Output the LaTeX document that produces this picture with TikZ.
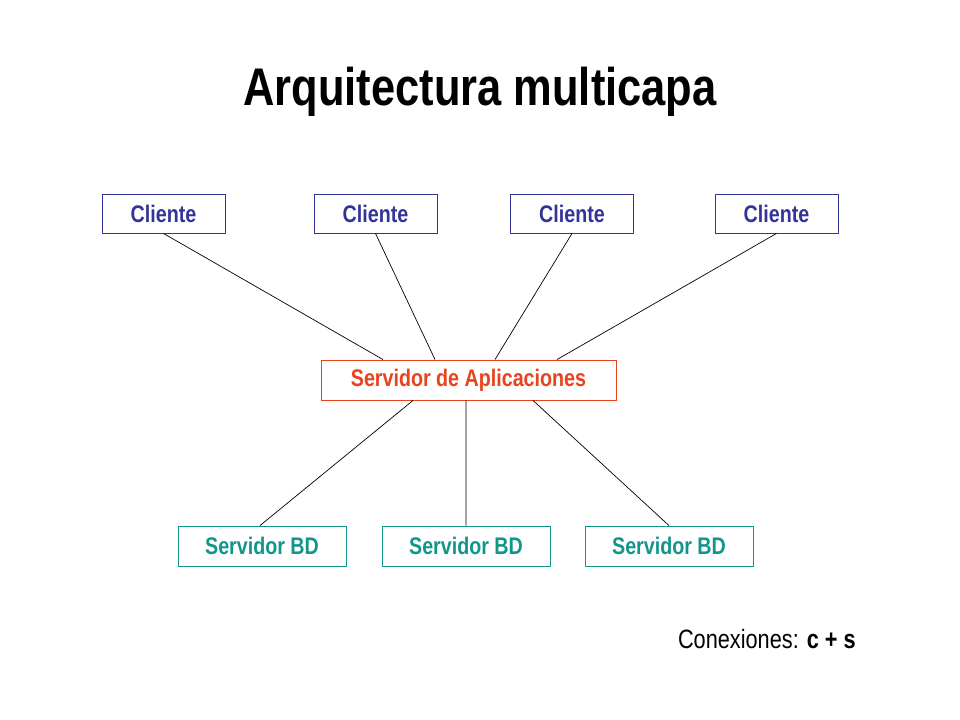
\documentclass[tikz,border=0pt]{standalone}
\usepackage{fontspec}
\setmainfont{Liberation Sans}
\newfontfamily\narrowfont[FakeStretch=0.82]{Liberation Sans}
\definecolor{cliblue}{HTML}{333399}
\definecolor{apporange}{HTML}{E8431C}
\definecolor{bdteal}{HTML}{12968A}
\begin{document}
\begin{tikzpicture}[x=1bp,y=-1bp,
  box/.style={draw,line width=0.9bp,inner sep=0pt,font=\narrowfont\fontsize{24bp}{26bp}\selectfont\bfseries},
  cli/.style={box,cliblue,minimum width=123bp,minimum height=39bp},
  app/.style={box,apporange,minimum width=295bp,minimum height=40bp},
  bd/.style={box,bdteal,minimum width=168bp,minimum height=40bp},
  link/.style={draw=black,line width=0.7bp}]
\useasboundingbox[fill=white] (0,0) rectangle (960,720);
\node[anchor=base,font=\narrowfont\fontsize{53bp}{56bp}\selectfont\bfseries] (title) at (480,106) {Arquitectura multicapa};
\node[cli] (c1) at (163.5,213.5) {Cliente};
\node[cli] (c2) at (375.5,213.5) {Cliente};
\node[cli] (c3) at (572,213.5) {Cliente};
\node[cli] (c4) at (776.5,213.5) {Cliente};
\node[app] (app) at (468.5,380) {Servidor de Aplicaciones};
\node[bd] (b1) at (262,546) {Servidor BD};
\node[bd] (b2) at (466,546) {Servidor BD};
\node[bd] (b3) at (669,546) {Servidor BD};
\node[anchor=base east,inner sep=0pt,font=\narrowfont\fontsize{26.5bp}{28bp}\selectfont] (con) at (856,648) {Conexiones: \textbf{c + s}};
\draw[link] (c1.south) -- ([xshift=-85.5bp]app.north);
\draw[link] (c2.south) -- ([xshift=-33.5bp]app.north);
\draw[link] (c3.south) -- ([xshift=26.5bp]app.north);
\draw[link] (c4.south) -- ([xshift=88.5bp]app.north);
\draw[link] ([xshift=-55.5bp]app.south) -- ([xshift=-2bp]b1.north);
\draw[link] ([xshift=-2.5bp]app.south) -- (b2.north);
\draw[link] ([xshift=64.5bp]app.south) -- (b3.north);
\end{tikzpicture}
\end{document}
